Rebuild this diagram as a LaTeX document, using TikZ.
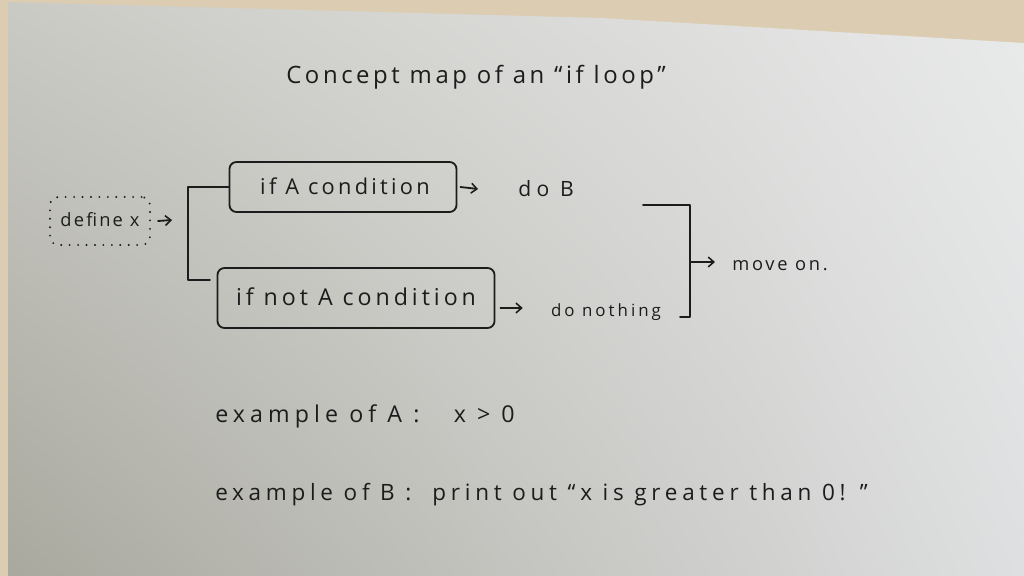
\documentclass[tikz,border=0pt]{standalone}
\usepackage{fontspec}
\setmainfont{Open Sans}
\usetikzlibrary{arrows.meta,calc,shadings}
\definecolor{ink}{HTML}{1C1C1C}
\definecolor{wood}{HTML}{DCCDB2}
\definecolor{pUL}{RGB}{202,202,197}
\definecolor{pUR}{RGB}{233,234,234}
\definecolor{pLL}{RGB}{168,168,158}
\definecolor{pLR}{RGB}{222,223,224}
\begin{document}
\begin{tikzpicture}[x=0.025cm,y=-0.025cm,
  hand/.style={text=ink,inner sep=0pt,font=\fontsize{13}{15}\selectfont\addfontfeature{LetterSpace=15}},
  big/.style={hand,font=\fontsize{17}{19}\selectfont\addfontfeature{LetterSpace=15}},
  ln/.style={draw=ink,line width=1.3pt,line cap=round,line join=round},
  arr/.style={ln,-{Straight Barb[length=4pt,width=7pt,line width=1.1pt]}},
  cbox/.style={draw=ink,line width=1.3pt,rounded corners=5pt,inner sep=0pt},
  dbox/.style={draw=ink,line width=1.5pt,line cap=round,dash pattern=on 0pt off 6pt,rounded corners=6pt,inner sep=0pt}]
% background
\useasboundingbox (0,0) rectangle (1024,576);
\fill[wood] (0,0) rectangle (1024,576);
\begin{scope}
\clip (8,2) -- (600,18) -- (1024,43) -- (1024,576) -- (8,576) -- cycle;
\shade[upper left=pUL,upper right=pUR,lower left=pLL,lower right=pLR] (0,0) rectangle (1024,576);
\end{scope}
% title
\node[big] (title) at (476,77) {Concept map of an “if loop”};
% define box
\node[dbox,minimum width=2.5cm,minimum height=1.2cm] (def) at (100,221) {};
\node[hand,font=\fontsize{13}{15}\selectfont\addfontfeature{LetterSpace=12}] (deft) at (100,220) {define x};
% condition boxes
\node[cbox,minimum width=5.675cm,minimum height=1.25cm] (b1) at (343,187) {};
\node[hand,font=\fontsize{15.5}{17}\selectfont\addfontfeature{LetterSpace=15}] (b1t) at (345,186) {if A condition};
\node[cbox,minimum width=6.925cm,minimum height=1.5cm] (b2) at (356,298) {};
\node[hand,font=\fontsize{16.5}{18}\selectfont\addfontfeature{LetterSpace=17}] (b2t) at (356,297) {if not A condition};
% results
\node[hand,font=\fontsize{15}{17}\selectfont\addfontfeature{LetterSpace=25}] (doB) at (546,189) {do B};
\node[hand,font=\fontsize{12}{14}\selectfont\addfontfeature{LetterSpace=18}] (dn) at (606,312) {do nothing};
\node[hand] (mv) at (780,266) {move on.};
% left bracket
\coordinate (lb) at (172,220);
\coordinate (lbb) at (188,280);
\coordinate (lbe) at (210,280);
\draw[arr] ($(def.east)+(7,0)$) -- (lb);
\draw[ln] (b1.west) -| (lbb) -- (lbe);
% arrows to results
\draw[arr] ($(b1.east)+(3,0)$) -- ($(doB.west)+(-40,0)$);
\draw[arr] ($(b2.east)+(5,10)$) -- ($(dn.west)+(-28,-4)$);
% right bracket
\coordinate (rt0) at (643,205);
\coordinate (rt) at (690,205);
\coordinate (rb) at (690,317);
\coordinate (rb0) at (680,317);
\coordinate (rm) at (690,262);
\draw[ln] (rt0) -- (rt) -- (rb) -- (rb0);
\draw[arr] (rm) -- ($(mv.west)+(-17,-4)$);
% examples
\node[hand,anchor=west,font=\fontsize{16.5}{18}\selectfont\addfontfeature{LetterSpace=22}] (exA) at (215,416) {example of A :\quad\ x > 0};
\node[hand,anchor=west,font=\fontsize{16}{18}\selectfont\addfontfeature{LetterSpace=21}] (exB) at (215,495) {example of B :\ \ print out “x is greater than 0! ”};
\end{tikzpicture}
\end{document}
